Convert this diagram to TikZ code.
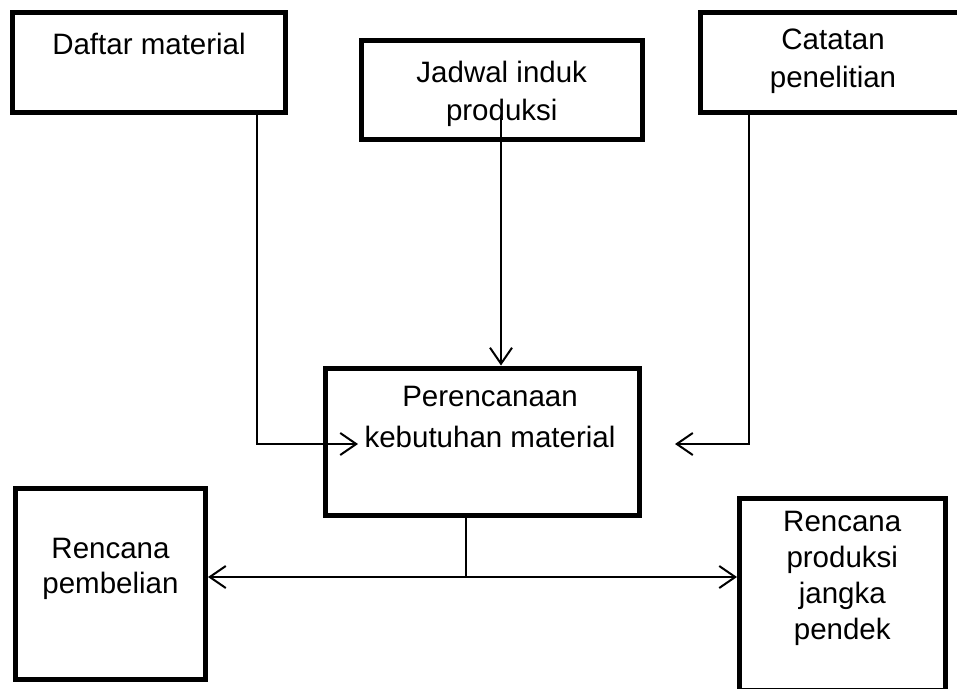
\documentclass[tikz,border=0pt]{standalone}
\usepackage{fontspec}
\setmainfont{Liberation Sans}
\usetikzlibrary{arrows.meta,positioning}

\tikzset{ujung/.tip={Straight Barb[length=16pt,width=22pt]}}

\begin{document}
\begin{tikzpicture}[x=1pt,y=-1pt,
  kotak/.style={draw,line width=5pt,inner sep=0pt},
  teks/.style={inner sep=0pt,align=center,font=\fontsize{29.5}{38}\selectfont},
  garis/.style={line width=2pt},
  panah/.style={garis,-ujung}]
\useasboundingbox (0,0) rectangle (957,688);
% kotak
\node[kotak,minimum width=273pt,minimum height=100pt](daftar)at(149,62.5){};
\node[kotak,minimum width=280.5pt,minimum height=99pt](jadwal)at(501.75,90){};
\node[kotak,minimum width=266pt,minimum height=100pt](catatan)at(833,62.5){};
\node[kotak,minimum width=314pt,minimum height=147.5pt](pusat)at(482.5,441.75){};
\node[kotak,minimum width=190pt,minimum height=191pt](beli)at(110.5,584){};
\node[kotak,minimum width=205.5pt,minimum height=192pt](prod)at(842.25,594){};
% teks
\node[teks,below=23pt of daftar.north](daftar-t){Daftar material};
\node[teks,below=23pt of jadwal.north](jadwal-t){Jadwal induk\\produksi};
\node[teks,below=18.5pt of catatan.north](catatan-t){Catatan\\penelitian};
\node[teks,font=\fontsize{29.5}{41}\selectfont,below=20pt of pusat.north,xshift=7.5pt](pusat-t){Perencanaan\\kebutuhan material};
\node[teks,font=\fontsize{29.5}{35}\selectfont,below=52pt of beli.north](beli-t){Rencana\\pembelian};
\node[teks,font=\fontsize{29.5}{36}\selectfont,below=15pt of prod.north](prod-t){Rencana\\produksi\\jangka\\pendek};
% garis
\coordinate(jadwal-in)at(501,118);
\coordinate(masuk-kiri)at(358,444);
\coordinate(masuk-kanan)at(675,444);
\coordinate(belok)at(466,577);
\draw[panah]([xshift=108pt]daftar.south)|-(masuk-kiri);
\draw[panah](jadwal-in)--(jadwal-in|-pusat.north);
\draw[panah]([xshift=-84pt]catatan.south)|-(masuk-kanan);
\draw[garis](pusat.south-|belok)--(belok);
\draw[garis,ujung-ujung](beli.east|-belok)--(prod.west|-belok);
\end{tikzpicture}
\end{document}
